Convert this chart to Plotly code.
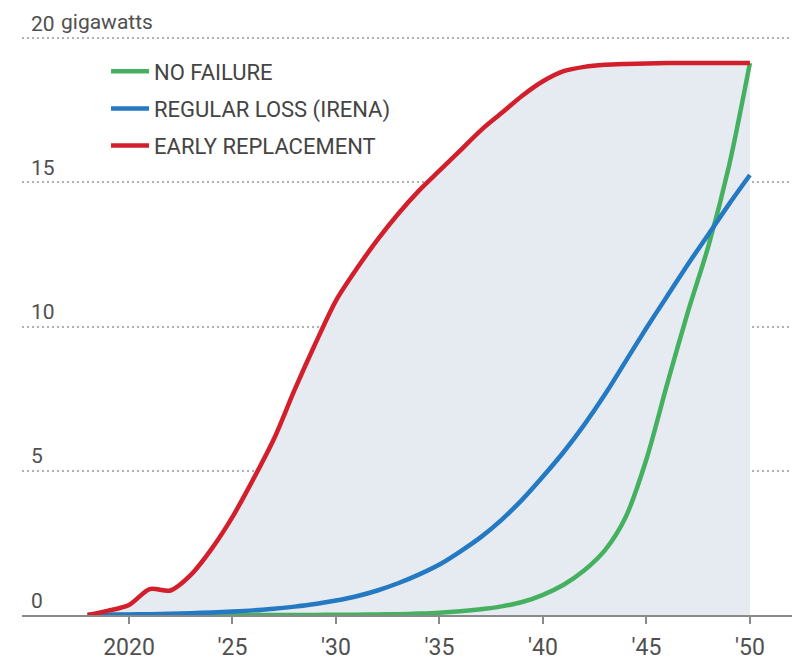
import plotly.graph_objects as go

years = list(range(2018, 2051))

early_replacement = [0.0, 0.15, 0.35, 0.9, 0.85, 1.4, 2.3, 3.4, 4.7, 6.1, 7.8, 9.4, 10.9, 12.0, 13.0,
                     13.9, 14.7, 15.4, 16.1, 16.8, 17.4, 18.0, 18.5, 18.85, 19.0, 19.07, 19.1, 19.12,
                     19.13, 19.13, 19.13, 19.13, 19.13]
regular_loss = [0.0, 0.01, 0.02, 0.03, 0.04, 0.06, 0.09, 0.12, 0.16, 0.22, 0.29, 0.38, 0.5, 0.65, 0.85,
                1.1, 1.4, 1.75, 2.2, 2.7, 3.3, 4.0, 4.8, 5.65, 6.6, 7.65, 8.8, 9.95, 11.05, 12.15,
                13.2, 14.25, 15.25]
no_failure = [0.0, 0.0, 0.0, 0.0, 0.0, 0.0, 0.0, 0.0, 0.0, 0.0, 0.0, 0.0, 0.01, 0.01, 0.02, 0.03,
              0.05, 0.08, 0.13, 0.2, 0.3, 0.45, 0.7, 1.05, 1.55, 2.25, 3.4, 5.4, 8.0, 10.5, 12.8,
              15.6, 19.13]

x_tickvals = [2020, 2025, 2030, 2035, 2040, 2045, 2050]
x_ticktext = ["2020", "'25", "'30", "'35", "'40", "'45", "'50"]
y_tickvals = [0, 5, 10, 15, 20]
y_ticktext = ["0", "5", "10", "15", "20"]
y_unit = "gigawatts"

GREEN = "#45b160"
BLUE = "#2379c2"
RED = "#d21f2b"
FILL = "#e6eaf1"
TEXT = "#505050"
FONT = "Roboto"

fig = go.Figure()

# shaded area under early replacement
fig.add_trace(go.Scatter(x=years, y=early_replacement, mode="lines",
                         line=dict(width=0, shape="spline", smoothing=0.8),
                         fill="tozeroy", fillcolor=FILL, showlegend=False, hoverinfo="skip", cliponaxis=False))

fig.add_trace(go.Scatter(x=years, y=no_failure, mode="lines", name="NO FAILURE", legendgroup="a",
                         line=dict(color=GREEN, width=4.5, shape="spline", smoothing=0.8), cliponaxis=False))
fig.add_trace(go.Scatter(x=years, y=regular_loss, mode="lines", name="REGULAR LOSS (IRENA)", legendgroup="b",
                         line=dict(color=BLUE, width=4.5, shape="spline", smoothing=0.8), cliponaxis=False))
fig.add_trace(go.Scatter(x=years, y=early_replacement, mode="lines", name="EARLY REPLACEMENT", legendgroup="c",
                         line=dict(color=RED, width=4.5, shape="spline", smoothing=0.8), cliponaxis=False))

fig.add_annotation(text=y_unit, xref="paper", yref="y", x=0.0475, y=y_tickvals[-1],
                   xanchor="left", yanchor="middle", yshift=16, showarrow=False,
                   font=dict(size=21, color=TEXT, family=FONT))

fig.update_layout(
    width=792, height=652,
    margin=dict(l=14, r=0, t=0, b=45),
    paper_bgcolor="white", plot_bgcolor="white",
    font=dict(family=FONT, color=TEXT),
    showlegend=True,
    legend=dict(x=0.108, y=0.93, xanchor="left", yanchor="top", traceorder="grouped",
                tracegroupgap=5.5, itemwidth=38, font=dict(size=22, color="#444444"),
                bgcolor="rgba(0,0,0,0)"),
    xaxis=dict(range=[2014.83, 2052.42], tickvals=x_tickvals, ticktext=x_ticktext,
               showgrid=False, zeroline=False, showline=True, linecolor="#8a8a8a", linewidth=2,
               ticks="outside", ticklen=7, tickwidth=1.5, tickcolor="#8a8a8a", automargin=False,
               tickfont=dict(size=23, color=TEXT), ticklabelstandoff=3),
    yaxis=dict(range=[0, 21.04], tickvals=y_tickvals, ticktext=y_ticktext, automargin=False,
               showgrid=True, gridcolor="#b0b0b0", gridwidth=2, griddash="2px,3px",
               zeroline=False, showline=False, ticks="",
               ticklabelposition="inside top", tickfont=dict(size=21, color=TEXT),
               ticklabelstandoff=6),
)

fig.write_html("out.html")
